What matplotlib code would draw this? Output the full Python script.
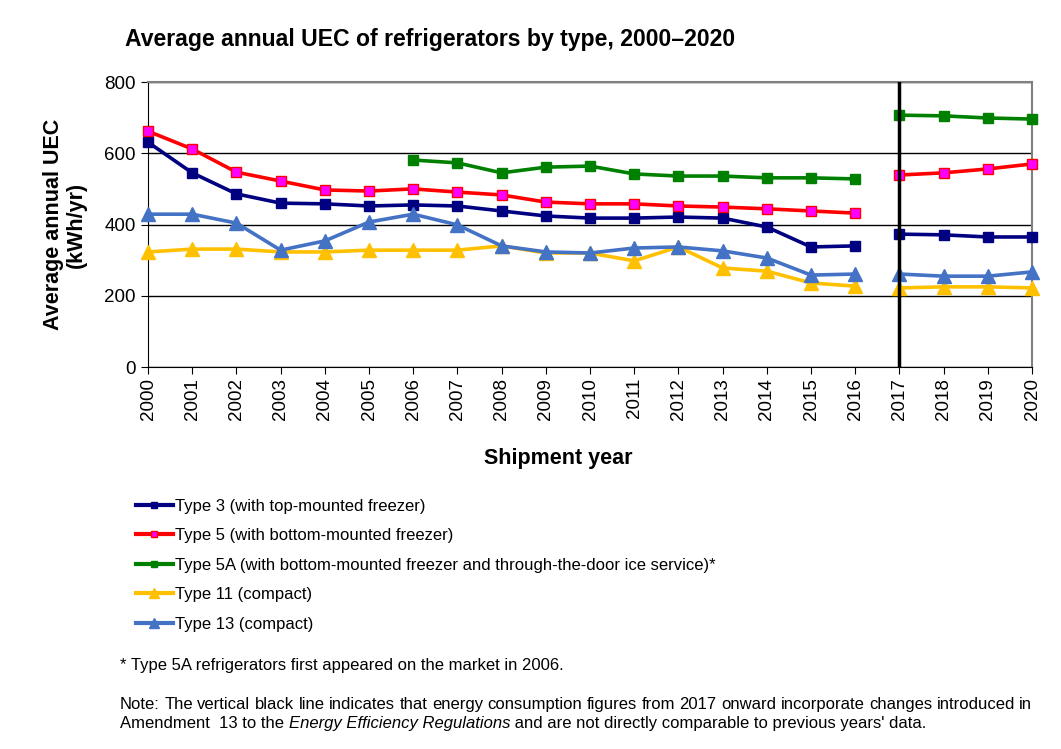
import numpy as np
import matplotlib
matplotlib.use('Agg')
import matplotlib.pyplot as plt
from matplotlib.lines import Line2D

plt.rcParams['font.family'] = ['Liberation Sans', 'DejaVu Sans']

# Data (kWh/yr)
years = list(range(2000, 2021))
type3 = [631, 545, 486, 460, 458, 452, 455, 452, 438, 424, 418, 418, 421, 418, 393, 337, 340,
         373, 371, 365, 365]
type5 = [662, 612, 547, 522, 497, 494, 500, 491, 483, 463, 458, 458, 452, 449, 444, 438, 432,
         539, 545, 556, 570]
type5a = [np.nan] * 6 + [581, 573, 545, 561, 564, 542, 536, 536, 531, 531, 528,
                         707, 705, 699, 696]
type11 = [323, 331, 331, 323, 323, 328, 328, 328, 340, 320, 320, 298, 337, 278, 269, 236, 227,
          222, 225, 225, 222]
type13 = [429, 429, 404, 328, 354, 407, 429, 399, 340, 323, 320, 334, 337, 326, 306, 258, 261,
          261, 255, 255, 267]

labels = ['Type 3 (with top-mounted freezer)',
          'Type 5 (with bottom-mounted freezer)',
          'Type 5A (with bottom-mounted freezer and through-the-door ice service)*',
          'Type 11 (compact)',
          'Type 13 (compact)']
break_year = 2017

styles = [
    dict(color='#000080', marker='s', mfc='#000080', mec='#000080', ms=7.5),
    dict(color='#FF0000', marker='s', mfc='#FF00FF', mec='#FF0000', ms=7.5),
    dict(color='#008000', marker='s', mfc='#008000', mec='#008000', ms=7.5),
    dict(color='#FFC000', marker='^', mfc='#FFC000', mec='#FFC000', ms=9.5),
    dict(color='#4472C4', marker='^', mfc='#4472C4', mec='#4472C4', ms=9.5),
]
series = [type3, type5, type5a, type11, type13]

fig = plt.figure(figsize=(10.61, 7.49), dpi=100)
ax = fig.add_axes([0.1395, 0.51, 0.8332, 0.3805])

yrs = np.array(years)
pre = yrs < break_year
post = yrs >= break_year
# draw back-to-front so navy/red sit on top
order = [4, 3, 2, 0, 1]
for i in order:
    vals = np.array(series[i], dtype=float)
    st = styles[i]
    for mask in (pre, post):
        ax.plot(yrs[mask], vals[mask], lw=2.6, clip_on=False, zorder=3 + i, **st)

ax.axvline(break_year, color='black', lw=2.5, zorder=10)

ax.set_xlim(2000, 2020)
ax.set_ylim(0, 800)
ax.set_yticks([0, 200, 400, 600, 800])
ax.set_xticks(years)
ax.set_xticklabels([str(y) for y in years], rotation=90, fontsize=13.5)
ax.tick_params(axis='y', labelsize=13.5, length=5, direction='out', pad=4)
ax.tick_params(axis='x', length=5, direction='out', pad=3)
ax.yaxis.grid(True, color='black', lw=1)
ax.set_axisbelow(True)
for s in ['top', 'right']:
    ax.spines[s].set_color('#808080')
    ax.spines[s].set_linewidth(1.5)
for s in ['left', 'bottom']:
    ax.spines[s].set_color('black')

ax.set_ylabel('Average annual UEC\n(kWh/yr)', fontsize=15.5, fontweight='bold',
              labelpad=12, linespacing=1.15)
fig.text(0.526, 0.388, 'Shipment year', fontsize=15.5, fontweight='bold',
         ha='center', va='center')
fig.text(0.118, 0.947, 'Average annual UEC of refrigerators by type, 2000\u20132020',
         fontsize=16.6, fontweight='bold', va='center')

handles = [Line2D([0], [0], lw=3, **{**st, 'ms': 5 if st['marker'] == 's' else 7})
           for st in styles]
fig.legend(handles, labels, loc='upper left', bbox_to_anchor=(0.122, 0.343),
           frameon=False, fontsize=12, handlelength=2.2, handletextpad=0.15,
           labelspacing=0.87, borderaxespad=0)

fig.text(0.113, 0.112, '* Type 5A refrigerators first appeared on the market in 2006.',
         fontsize=12, va='center')

# justified first line of the note
fig.canvas.draw()
renderer = fig.canvas.get_renderer()
W = fig.bbox.width
line1 = ('Note: The vertical black line indicates that energy consumption figures from 2017 '
         'onward incorporate changes introduced in').split(' ')
x0, x1 = 0.113, 0.973
y1 = 0.059
words = [fig.text(0, y1, w, fontsize=12, va='center') for w in line1]
widths = [t.get_window_extent(renderer).width / W for t in words]
gap = (x1 - x0 - sum(widths)) / (len(words) - 1)
x = x0
for t, w in zip(words, widths):
    t.set_x(x)
    x += w + gap

# second line with italic title
y2 = 0.034
parts = [('Amendment  13 to the ', 'normal'),
         ('Energy Efficiency Regulations', 'italic'),
         (" and are not directly comparable to previous years' data.", 'normal')]
x = x0
for s, style in parts:
    t = fig.text(x, y2, s, fontsize=12, va='center', style=style)
    x += t.get_window_extent(renderer).width / W

fig.savefig('out.png', dpi=100)
